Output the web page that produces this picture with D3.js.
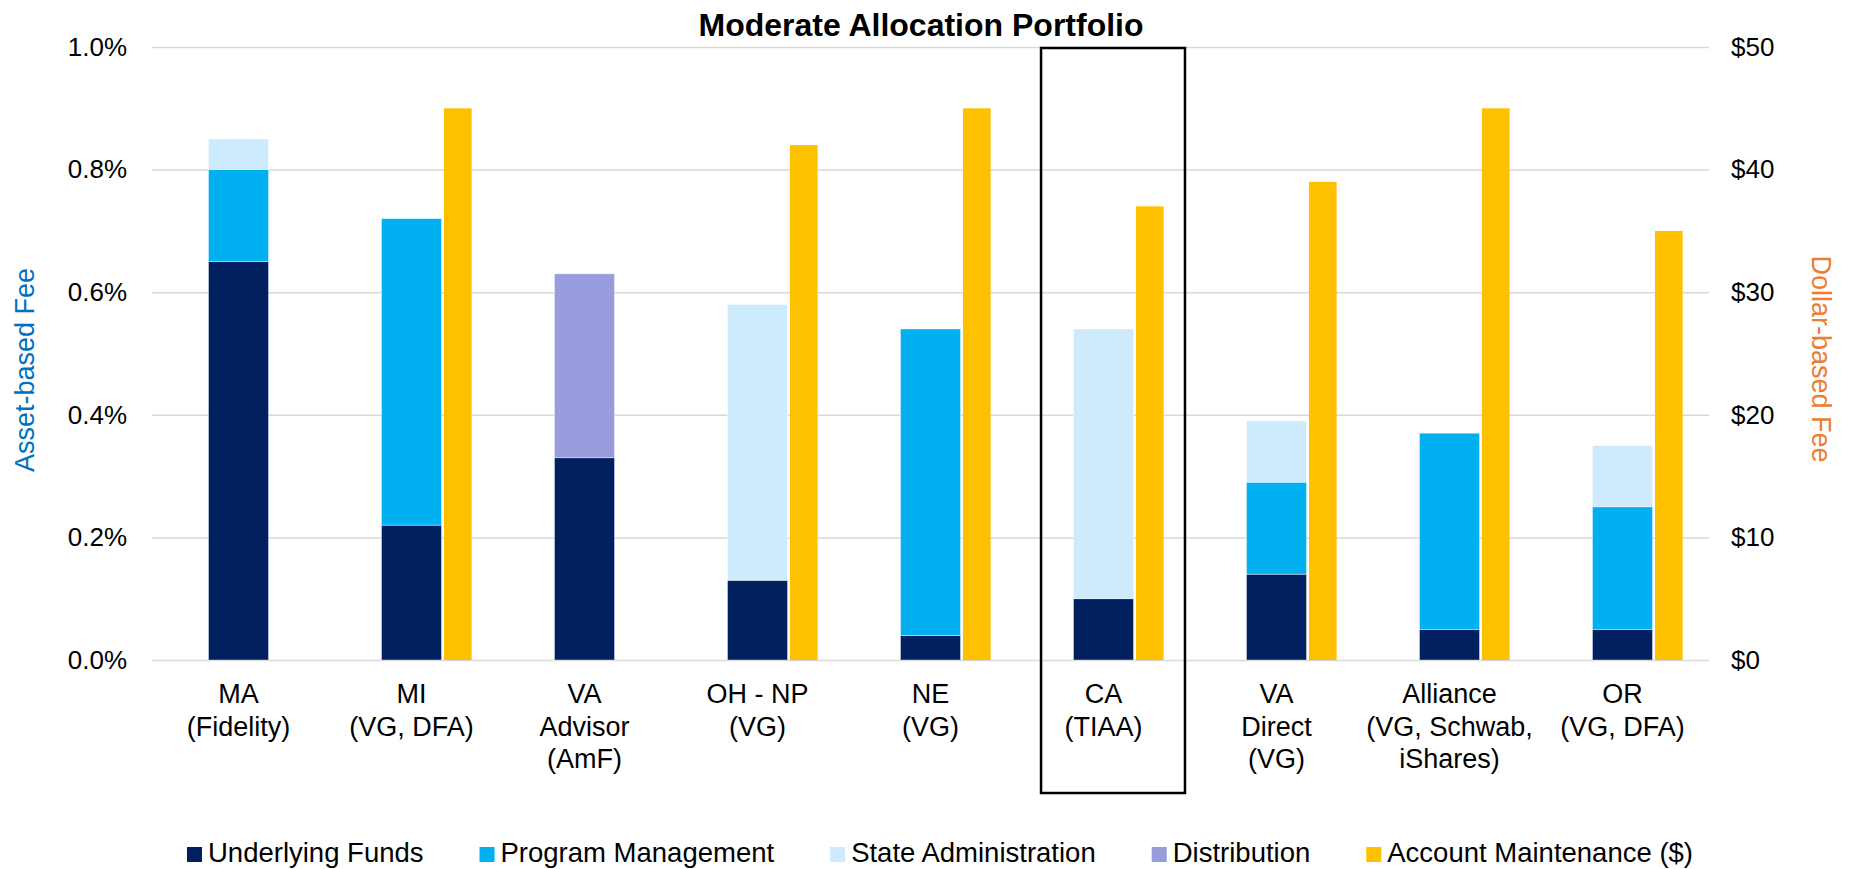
<!DOCTYPE html>
<html>
<head>
<meta charset="utf-8">
<script src="https://cdn.jsdelivr.net/npm/d3@7/dist/d3.min.js"></script>
<style>
    body { margin: 0; background: #fff; }
    svg { font-family: Arial, "Liberation Sans", sans-serif; }
    .grid line { stroke: #d9d9d9; stroke-width: 1.5; }
    .tick text { fill: #000; font-size: 26px; }
</style>
</head>
<body>
<svg id="chart" width="1849" height="869"></svg>
<script>
"use strict";

// категории (строки подписи)
const categories = ["MA", "MI", "VA Advisor", "OH - NP", "NE", "CA", "VA Direct", "Alliance", "OR"];
const categoryLines = [
    ["MA", "(Fidelity)"],
    ["MI", "(VG, DFA)"],
    ["VA", "Advisor", "(AmF)"],
    ["OH - NP", "(VG)"],
    ["NE", "(VG)"],
    ["CA", "(TIAA)"],
    ["VA", "Direct", "(VG)"],
    ["Alliance", "(VG, Schwab,", "iShares)"],
    ["OR", "(VG, DFA)"]
];

// сборы в процентах (левая ось)
const underlyingFunds   = [0.65, 0.22, 0.33, 0.13, 0.04, 0.10, 0.14, 0.05, 0.05];
const programManagement = [0.15, 0.50, 0.00, 0.00, 0.50, 0.00, 0.15, 0.32, 0.20];
const stateAdmin        = [0.05, 0.00, 0.00, 0.45, 0.00, 0.44, 0.10, 0.00, 0.10];
const distribution      = [0.00, 0.00, 0.30, 0.00, 0.00, 0.00, 0.00, 0.00, 0.00];
// сбор в долларах (правая ось)
const accountMaintenance = [null, 45, null, 42, 45, 37, 39, 45, 35];

const leftTicks = [0, 0.2, 0.4, 0.6, 0.8, 1.0];
const rightTicks = [0, 10, 20, 30, 40, 50];

const stackSeries = [
    {name: "Underlying Funds", values: underlyingFunds, color: "#002060"},
    {name: "Program Management", values: programManagement, color: "#00b0f0"},
    {name: "State Administration", values: stateAdmin, color: "#cdebfd"},
    {name: "Distribution", values: distribution, color: "#989cdd"}
];
const dollarSeries = {name: "Account Maintenance ($)", values: accountMaintenance, color: "#ffc000"};

const highlighted = "CA";

// область построения
const plot = {left: 152, right: 1709, top: 47, bottom: 660};

const svg = d3.select("#chart");

const x = d3.scaleBand()
    .domain(categories)
    .range([plot.left, plot.right])
    .padding(0);
const yLeft = d3.scaleLinear().domain([0, 1.0]).range([plot.bottom, plot.top]);
const yRight = d3.scaleLinear().domain([0, 50]).range([plot.bottom, plot.top]);

const step = x.bandwidth();
const stackW = step * 0.347;
const goldW = step * 0.16;
const goldGap = step * 0.014;

// сетка + левая ось
svg.append("g")
    .attr("class", "grid")
    .attr("transform", `translate(${plot.left},0)`)
    .call(d3.axisLeft(yLeft)
        .tickValues(leftTicks)
        .tickSize(-(plot.right - plot.left))
        .tickPadding(25)
        .tickFormat(d => d3.format(".1f")(d) + "%"))
    .call(g => g.select(".domain").remove());

// правая ось
svg.append("g")
    .attr("transform", `translate(${plot.right},0)`)
    .call(d3.axisRight(yRight)
        .tickValues(rightTicks)
        .tickSize(0)
        .tickPadding(22)
        .tickFormat(d => "$" + d))
    .call(g => g.select(".domain").remove());

// стопки
const stacked = d3.stack()
    .keys(d3.range(stackSeries.length))
    .value((i, k) => stackSeries[k].values[i])(d3.range(categories.length));

svg.append("g")
    .selectAll("g")
    .data(stacked)
    .join("g")
    .attr("fill", (d, k) => stackSeries[k].color)
    .selectAll("rect")
    .data(d => d.filter(s => s[1] - s[0] > 0))
    .join("rect")
    .attr("x", s => x(categories[s.data]) + (step - stackW) / 2)
    .attr("width", stackW)
    .attr("y", s => yLeft(s[1]))
    .attr("height", s => yLeft(s[0]) - yLeft(s[1]))
    .attr("stroke", "#ffffff")
    .attr("stroke-opacity", 0.5)
    .attr("stroke-width", 0.8);

// столбцы в долларах
svg.append("g")
    .selectAll("rect")
    .data(categories.map((c, i) => ({c, v: dollarSeries.values[i]})).filter(d => d.v !== null))
    .join("rect")
    .attr("x", d => x(d.c) + step / 2 + stackW / 2 + goldGap)
    .attr("width", goldW)
    .attr("y", d => yRight(d.v))
    .attr("height", d => yRight(0) - yRight(d.v))
    .attr("fill", dollarSeries.color);

// подписи категорий
const labels = svg.append("g")
    .attr("font-size", 27)
    .attr("text-anchor", "middle");
categories.forEach((c, i) => {
    labels.append("text")
        .attr("x", x(c) + step / 2)
        .attr("y", 703)
        .selectAll("tspan")
        .data(categoryLines[i])
        .join("tspan")
        .attr("x", x(c) + step / 2)
        .attr("dy", (d, j) => j === 0 ? 0 : 32.5)
        .text(d => d);
});

// рамка выделения
svg.append("rect")
    .attr("x", x(highlighted) + step * 0.139)
    .attr("y", yLeft(1.0) + 1)
    .attr("width", step * 0.832)
    .attr("height", 793 - yLeft(1.0) - 1)
    .attr("fill", "none")
    .attr("stroke", "#000")
    .attr("stroke-width", 2.5);

// заголовок
svg.append("text")
    .attr("x", 921)
    .attr("y", 36)
    .attr("text-anchor", "middle")
    .attr("font-size", 32)
    .attr("font-weight", "bold")
    .text("Moderate Allocation Portfolio");

// названия осей
svg.append("text")
    .attr("transform", "translate(34,370) rotate(-90)")
    .attr("text-anchor", "middle")
    .attr("font-size", 27)
    .attr("fill", "#0070c0")
    .text("Asset-based Fee");
svg.append("text")
    .attr("transform", "translate(1812,359) rotate(90)")
    .attr("text-anchor", "middle")
    .attr("font-size", 27)
    .attr("fill", "#ed7d31")
    .text("Dollar-based Fee");

// легенда
const legendItems = stackSeries.concat([dollarSeries]);
const legendGap = 56;
const legend = svg.append("g").attr("font-size", 27.5);
let lx = 0;
legendItems.forEach(item => {
    let g = legend.append("g").attr("transform", `translate(${lx},0)`);
    g.append("rect")
        .attr("x", 0).attr("y", 847)
        .attr("width", 15).attr("height", 15)
        .attr("fill", item.color);
    let t = g.append("text")
        .attr("x", 21).attr("y", 862)
        .text(item.name);
    lx += 21 + t.node().getComputedTextLength() + legendGap;
});
lx -= legendGap;
legend.attr("transform", `translate(${940 - lx / 2},0)`);
</script>
</body>
</html>
